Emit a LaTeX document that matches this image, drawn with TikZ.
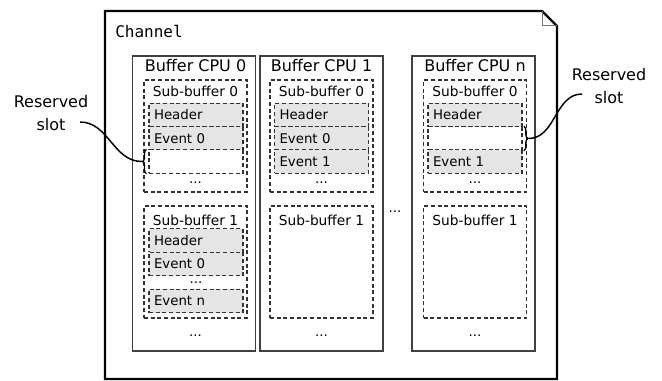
\documentclass[tikz,border=0pt]{standalone}
\usepackage{fontspec}
\setmainfont{DejaVu Sans}
\setmonofont{DejaVu Sans Mono}
\usetikzlibrary{positioning,decorations.pathreplacing}

\begin{document}
\begin{tikzpicture}
	[x=0.75pt,y=-0.75pt,every node/.style={inner sep=0pt},
	buffer/.style={draw=black!75,line width=0.9pt,minimum width=92.25pt,
	minimum height=221.25pt},
	sub/.style={draw=black!80,dash pattern=on 3pt off 2pt,line width=0.8pt,
	minimum width=77.25pt,minimum height=84pt},
	slot/.style={draw=black!80,dash pattern=on 3pt off 2pt,line width=0.8pt,
	fill=black!10,minimum width=70.5pt,minimum height=17.5pt,inner xsep=3.75pt,
	text width=63pt,align=left,font=\fontsize{10}{12}\selectfont},
	free/.style={slot,fill=white},
	title/.style={font=\fontsize{12}{14}\selectfont},
	subtitle/.style={font=\fontsize{10.3}{12}\selectfont},
	dots/.style={font=\fontsize{10}{12}\selectfont},
	brc/.style={decorate,decoration={brace,amplitude=3pt},line width=1pt}]
	\useasboundingbox (0,0) rectangle (662,381);

	% the channel, a page with a folded corner
	\draw[line width=1.6pt] (105,11) -- (542,11) -- (557,26) -- (557,379)
		-- (105,379) -- cycle;
	\draw[black!55,line width=0.75pt] (542,11) |- (557,26);
	\node[font=\ttfamily\fontsize{12}{14}\selectfont,anchor=west] (chan)
		at (115,31) {Channel};

	\foreach \n/\x/\s in {0/194/195.5,1/321.5/321.5,n/473.5/475}{
		\node[buffer] (cpu\n) at (\x,203.5) {};
		\node[title] (t\n) at (\s,66) {Buffer CPU \n};
		\node[sub] (sb\n0) at (\s,136) {};
		\node[subtitle] (st\n0) at (\s,91.5) {Sub-buffer 0};
		\node[sub] (sb\n1) at (\s,262) {};
		\node[subtitle] (st\n1) at (\s,220.5) {Sub-buffer 1};
		\node[dots] (d\n0) at (\s,183) {...};
		\node[dots] (d\n) at (\s,336) {...};
	}
	\node[dots] (dcpu) at (395,212) {...};

	% CPU 0
	\node[slot] (h00) at (196,115) {Header};
	\node[slot] (e00) at (196,138.5) {Event 0};
	\node[free] (r0) at (196,161.5) {};
	\node[slot] (h01) at (196,240.5) {Header};
	\node[slot] (e01) at (196,264) {Event 0};
	\node[dots] (d01) at (196,283) {...};
	\node[slot] (en01) at (196,301) {Event n};
	% CPU 1
	\node[slot] (h10) at (321.5,115) {Header};
	\node[slot] (e10) at (321.5,138.5) {Event 0};
	\node[slot] (e11) at (321.5,161.5) {Event 1};
	% CPU n
	\node[slot] (hn0) at (475,115) {Header};
	\node[free] (rn) at (475,138.5) {};
	\node[slot] (en1) at (475,161.5) {Event 1};

	% reserved slots
	\draw[brc] ([xshift=-1.5pt]r0.south west) -- ([xshift=-1.5pt]r0.north west);
	\draw[brc] ([xshift=1pt]rn.north east) -- ([xshift=1pt]rn.south east);
	\coordinate (tip0) at ([xshift=-5pt]r0.west);
	\coordinate (tipn) at ([xshift=4.5pt]rn.east);
	\node[title,align=center,font=\fontsize{12}{17}\selectfont] (rl)
		at (51,113) {Reserved\\slot};
	\node[title,align=center,font=\fontsize{12}{17}\selectfont] (rr)
		at (609,86) {Reserved\\slot};
	\coordinate (c0) at (80,122);
	\coordinate (cn) at (582,94);
	\draw[line width=1.1pt] (c0) to[out=0,in=180] (tip0);
	\draw[line width=1.1pt] (tipn) to[out=0,in=180] (cn);
\end{tikzpicture}
\end{document}
